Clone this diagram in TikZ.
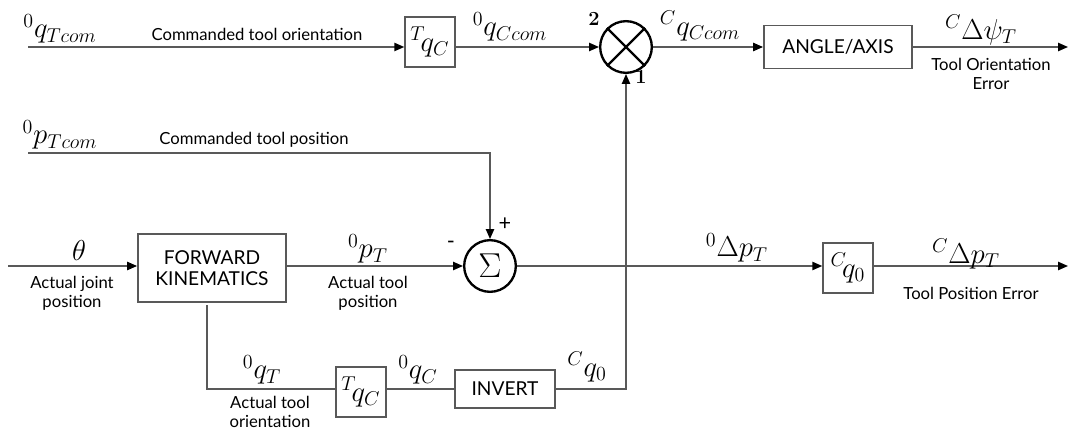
\documentclass[tikz,border=0pt]{standalone}
\usepackage{fontspec}
\setsansfont{Lato}
\usetikzlibrary{arrows.meta, positioning}

\begin{document}
\begin{tikzpicture}[
        x=0.6pt, y=-0.6pt,
        wire/.style={draw=black!65, line width=0.9pt},
        arr/.style={wire, -{Triangle[length=6pt, width=5pt, color=black]}},
        block/.style={rectangle, draw=black!65, line width=0.9pt, fill=white,
                      align=center, inner sep=2pt,
                      font=\sffamily\fontsize{11.5}{13}\selectfont},
        qbox/.style={block, minimum width=30pt, minimum height=30pt,
                     font=\fontsize{17}{19}\selectfont},
        junc/.style={circle, draw=black, line width=1.4pt, fill=white,
                     minimum size=31pt, inner sep=0pt},
        tag/.style={font=\sffamily\fontsize{10}{11.5}\selectfont, align=center},
        sym/.style={font=\fontsize{17}{19}\selectfont, inner sep=1pt},
        port/.style={font=\bfseries\fontsize{12}{14}\selectfont, inner sep=0pt},
    ]
    \useasboundingbox (0,0) rectangle (1070,429);

    % blocks
    \node[qbox] (tqc1) at (430,42) {${}^{T}\!q_{C}$};
    \node[junc] (mul) at (626,47) {};
    \draw[line width=1.4pt] (mul.north west) -- (mul.south east)
                            (mul.north east) -- (mul.south west);
    \node[block, minimum width=89pt, minimum height=26pt] (aa) at (838,47) {ANGLE/AXIS};
    \node[junc, font=\fontsize{21}{23}\selectfont] (sum) at (490,266) {$\Sigma$};
    \node[block, minimum width=89pt, minimum height=41pt] (fk) at (212,268) {FORWARD\\KINEMATICS};
    \node[qbox] (tqc2) at (361,392) {${}^{T}\!q_{C}$};
    \node[block, minimum width=60pt, minimum height=23pt] (inv) at (505,389) {INVERT};
    \node[qbox] (cq0) at (848,268) {${}^{C}\!q_{0}$};

    % free ends
    \coordinate (inq) at (28,47);
    \coordinate (inp) at (28,153);
    \coordinate (inth) at (8,266);
    \coordinate (tap) at (207,305);
    \coordinate (outpsi) at (1068,47);
    \coordinate (outp) at (1068,266);

    % connectors
    \draw[arr] (inq) -- (inq -| tqc1.west);
    \draw[arr] (tqc1.east |- inq) -- (mul.west);
    \draw[arr] (mul.east) -- (aa.west);
    \draw[arr] (aa.east) -- (outpsi);
    \draw[arr] (inp) -| (sum.north);
    \draw[arr] (inth) -- (fk.west |- inth);
    \draw[arr] (fk.east |- inth) -- (sum.west);
    \draw[wire] (tap) |- (tqc2.west |- inv.west);
    \draw[wire] (tqc2.east |- inv.west) -- (inv.west);
    \draw[arr] (inv.east) -| (mul.south);
    \draw[arr] (sum.east) -- (cq0.west |- sum.east);
    \draw[arr] (cq0.east |- sum.east) -- (outp);

    % signal labels
    \node[sym] (lqtc) at (60,29) {${}^{0}q_{Tcom}$};
    \node[tag] (lcto) at (257,34) {Commanded tool orientation};
    \node[sym] (lqcc) at (510,27) {${}^{0}q_{Ccom}$};
    \node[port] (l2) at (594,19) {2};
    \node[port] (l1) at (641,77) {1};
    \node[sym] (lcqcc) at (700,26) {${}^{C}q_{Ccom}$};
    \node[sym] (lpsi) at (981,30) {${}^{C}\Delta\psi_{T}$};
    \node[tag] (ltoe) at (991,74) {Tool Orientation\\Error};
    \node[sym] (lptc) at (60,135) {${}^{0}p_{Tcom}$};
    \node[tag] (lctp) at (254,140) {Commanded tool position};
    \node[port, font=\sffamily\fontsize{13}{14}\selectfont] (lplus) at (505,224) {+};
    \node[port, font=\sffamily\fontsize{13}{14}\selectfont] (lminus) at (451,245) {-};
    \node[sym] (lth) at (79,250) {$\theta$};
    \node[tag] (lajp) at (72,293) {Actual joint\\position};
    \node[sym] (lpt) at (368,249) {${}^{0}p_{T}$};
    \node[tag] (latp) at (368,293) {Actual tool\\position};
    \node[sym] (lqt) at (262,370) {${}^{0}q_{T}$};
    \node[tag] (lato) at (270,412) {Actual tool\\orientation};
    \node[sym] (lqc) at (418,370) {${}^{0}q_{C}$};
    \node[sym] (lcq0) at (587,367) {${}^{C}q_{0}$};
    \node[sym] (ldp) at (737,248) {${}^{0}\Delta p_{T}$};
    \node[sym] (lcdp) at (966,254) {${}^{C}\Delta p_{T}$};
    \node[tag] (ltpe) at (971,293) {Tool Position Error};
\end{tikzpicture}
\end{document}
